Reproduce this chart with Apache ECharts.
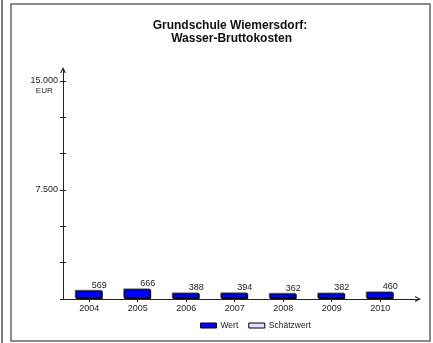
<!DOCTYPE html>
<html lang="de">
<head>
    <meta charset="UTF-8">
    <title>Grundschule Wiemersdorf: Wasser-Bruttokosten</title>
    <script src="https://cdn.jsdelivr.net/npm/echarts@6.0.0/dist/echarts.min.js"></script>
    <style>
        html, body { margin: 0; padding: 0; background: #fff; }
    </style>
</head>
<body>
<div id="chart" style="width: 433px; height: 343px;"></div>

<script>
    // data
    var years = ['2004', '2005', '2006', '2007', '2008', '2009', '2010'];
    var wert = [569, 666, 388, 394, 362, 382, 460];
    var schaetzwert = [];
    var yTicks = [0, 2500, 5000, 7500, 10000, 12500, 15000];
    var yLabels = [7500, 15000];

    var font = 'Liberation Sans, Arial, sans-serif';
    // open chevron used as the axis arrow head
    var chevron = 'path://M0,10 L5,0 L10,10 L8,10 L5,4 L2,10 Z';

    var chart = echarts.init(document.getElementById('chart'));
    var option = {
        animation: false,
        title: {
            text: 'Grundschule Wiemersdorf:\n Wasser-Bruttokosten',
            left: 225,
            top: 14,
            textAlign: 'center',
            textStyle: {fontFamily: font, fontSize: 12, fontWeight: 'bold', color: '#111', lineHeight: 13}
        },
        legend: {
            left: 195,
            top: 316,
            itemWidth: 16,
            itemHeight: 5,
            itemGap: 10,
            textStyle: {fontFamily: font, fontSize: 8.5, color: '#222', padding: [0, 0, 0, -1]},
            data: [
                {name: 'Wert', icon: 'rect', itemStyle: {color: '#0000ff', borderColor: '#000', borderWidth: 1}},
                {name: 'Schätzwert', icon: 'rect', itemStyle: {color: '#dde4ff', borderColor: '#000', borderWidth: 1}}
            ]
        },
        graphic: [
            {type: 'line', shape: {x1: 2, y1: 0, x2: 2, y2: 343}, style: {stroke: '#555', lineWidth: 1.5}},
            {type: 'rect', shape: {x: 11, y: 4, width: 419, height: 337}, style: {fill: 'none', stroke: '#666', lineWidth: 1.5}}
        ],
        grid: {left: 63, top: 70, width: 355, height: 229},
        xAxis: {
            type: 'value',
            min: -0.54,
            max: 6.78,
            splitLine: {show: false},
            axisLine: {
                show: true,
                onZero: false,
                lineStyle: {color: '#222', width: 1},
                symbol: ['none', chevron],
                symbolSize: [8, 6]
            },
            axisTick: {show: true, length: 3, lineStyle: {color: '#222'}, customValues: [0, 1, 2, 3, 4, 5, 6]},
            axisLabel: {
                customValues: [0, 1, 2, 3, 4, 5, 6],
                formatter: function (v) { return years[Math.round(v)]; },
                fontFamily: font, fontSize: 9, color: '#222', margin: 5
            }
        },
        yAxis: [{
            type: 'value',
            min: 0,
            max: 15750,
            splitLine: {show: false},
            axisLine: {
                show: true,
                onZero: false,
                lineStyle: {color: '#222', width: 1},
                symbol: ['none', chevron],
                symbolSize: [8, 6]
            },
            axisTick: {show: true, length: 3, lineStyle: {color: '#222'}, customValues: yTicks},
            axisLabel: {
                customValues: yLabels,
                margin: 5,
                fontFamily: font, fontSize: 9, color: '#222',
                formatter: function (v) {
                    if (v === 15000) return '{e| }\n{n|15.000}\n{e|EUR}';
                    return '{n|7.500}';
                },
                rich: {
                    n: {fontFamily: font, fontSize: 9, color: '#222', lineHeight: 10, align: 'center'},
                    e: {fontFamily: font, fontSize: 8, color: '#222', lineHeight: 10, align: 'center'}
                }
            }
        }, {
            // inner half of the crossing y ticks
            type: 'value',
            min: 0,
            max: 15750,
            position: 'left',
            splitLine: {show: false},
            axisLine: {show: false, onZero: false},
            axisLabel: {show: false},
            axisTick: {show: true, inside: true, length: 3, lineStyle: {color: '#222'}, customValues: yTicks}
        }],
        series: [{
            name: 'Wert',
            type: 'bar',
            barWidth: 27,
            data: wert.map(function (v, i) { return [i, v]; }),
            itemStyle: {
                color: '#0000ff',
                borderColor: '#000',
                borderWidth: 1,
                shadowColor: 'rgba(0,0,0,0.45)',
                shadowOffsetX: -1,
                shadowOffsetY: -1
            },
            label: {
                show: true,
                position: 'top',
                distance: 1,
                offset: [10, 0],
                fontFamily: font, fontSize: 9, color: '#222',
                formatter: function (p) { return p.value[1]; }
            }
        }, {
            name: 'Schätzwert',
            type: 'bar',
            barWidth: 27,
            barGap: '-100%',
            data: schaetzwert,
            itemStyle: {color: '#dde4ff', borderColor: '#000', borderWidth: 1}
        }]
    };

    chart.setOption(option);
</script>
</body>
</html>
